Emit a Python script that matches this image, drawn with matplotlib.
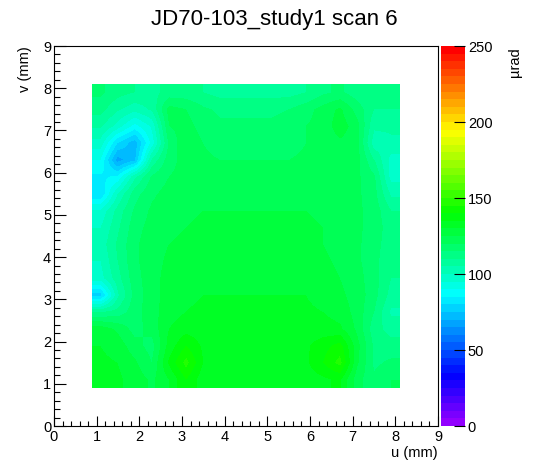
import colorsys
import matplotlib
matplotlib.use("Agg")
import matplotlib.pyplot as plt
import numpy as np
from matplotlib.colors import ListedColormap, BoundaryNorm
from matplotlib.ticker import MultipleLocator

plt.rcParams['font.family'] = ['Liberation Sans', 'DejaVu Sans']

title = "JD70-103_study1 scan 6"
u_range = [0.9, 8.1]
v_range = [0.9, 8.1]
z_ticks = [0, 50, 100, 150, 200, 250]

# deflection in µrad, rows from v=7.9 (top) down to v=1.1, columns u=1.1 .. 7.9 (0.4 mm step)
deflection = np.array([
    [116, 112, 110, 108, 112, 112, 110, 108, 108, 108, 108, 108, 110, 114, 116, 112, 110, 110],
    [112, 106, 102, 106, 122, 120, 116, 114, 114, 114, 114, 115, 118, 122, 126, 118, 110, 110],
    [106,  98,  88,  96, 120, 122, 118, 116, 116, 116, 116, 117, 120, 122, 128, 122, 106, 106],
    [ 98,  80,  72,  92, 116, 124, 120, 118, 118, 118, 118, 118, 120, 121, 124, 122, 102, 104],
    [ 90,  68,  74, 106, 118, 122, 121, 120, 120, 120, 120, 120, 121, 121, 122, 122, 110,  98],
    [ 84,  86, 104, 116, 120, 122, 122, 122, 121, 121, 121, 121, 122, 122, 122, 121, 116,  98],
    [ 80, 100, 113, 119, 122, 123, 123, 123, 123, 123, 123, 123, 123, 123, 122, 121, 117, 104],
    [ 96, 107, 116, 121, 123, 124, 125, 125, 125, 125, 125, 125, 125, 124, 123, 121, 118, 110],
    [100, 109, 118, 122, 124, 125, 126, 126, 126, 126, 126, 126, 126, 125, 123, 121, 118, 112],
    [102, 111, 119, 123, 125, 126, 127, 127, 127, 127, 127, 127, 126, 125, 123, 121, 117, 112],
    [100, 110, 119, 123, 126, 127, 128, 128, 128, 128, 128, 128, 127, 126, 124, 121, 117, 110],
    [ 98, 108, 118, 123, 127, 128, 129, 129, 129, 129, 129, 129, 128, 127, 125, 122, 117, 110],
    [ 78, 104, 117, 123, 127, 129, 130, 130, 130, 130, 130, 130, 130, 128, 126, 123, 117, 108],
    [110, 112, 118, 123, 128, 130, 131, 131, 131, 131, 131, 131, 131, 130, 128, 123, 115, 104],
    [128, 124, 118, 122, 130, 133, 132, 132, 132, 132, 132, 132, 132, 132, 131, 124, 112, 108],
    [130, 128, 122, 118, 132, 140, 134, 132, 132, 132, 132, 132, 134, 138, 142, 127, 114, 112],
    [131, 130, 126, 120, 136, 147, 135, 132, 131, 131, 132, 132, 134, 140, 147, 126, 114, 116],
    [132, 131, 128, 124, 130, 140, 132, 130, 130, 130, 130, 130, 132, 134, 136, 122, 116, 120],
])

# ROOT "pretty" palette: 50 colours, violet -> red
colors = []
for i in range(49):
    hue = 280 - (i + 1) * 280 / 50
    colors.append(colorsys.hls_to_rgb(hue / 360, 0.5, 1.0))
colors.append((1.0, 0.0, 0.0))
cmap = ListedColormap(colors)
norm = BoundaryNorm(np.linspace(0, 250, 51), cmap.N)

fig = plt.figure(figsize=(5.48, 4.74), dpi=100)
ax = fig.add_axes([54 / 548, 48 / 474, 384 / 548, 380 / 474])
cax = fig.add_axes([441 / 548, 48 / 474, 24 / 548, 380 / 474])

im = ax.imshow(deflection, cmap=cmap, norm=norm, origin='upper',
               extent=[u_range[0], u_range[1], v_range[0], v_range[1]],
               interpolation='bilinear', interpolation_stage='data', aspect='auto')

ax.set_xlim(0, 9)
ax.set_ylim(0, 9)
ax.xaxis.set_major_locator(MultipleLocator(1))
ax.xaxis.set_minor_locator(MultipleLocator(0.2))
ax.yaxis.set_major_locator(MultipleLocator(1))
ax.yaxis.set_minor_locator(MultipleLocator(0.2))
ax.tick_params(axis='both', which='both', direction='in', top=False, right=False,
               labelsize=10.5, width=0.8)
ax.tick_params(axis='x', which='major', length=7, pad=3)
ax.tick_params(axis='x', which='minor', length=3.6)
ax.tick_params(axis='y', which='major', length=8.5, pad=2)
ax.tick_params(axis='y', which='minor', length=4.5)
for s in ax.spines.values():
    s.set_linewidth(0.8)
ax.set_xlabel("u (mm)", loc='right', fontsize=10.5, labelpad=1)
ax.set_ylabel("v (mm)", loc='top', fontsize=10.5, labelpad=8)

cb = fig.colorbar(im, cax=cax, ticks=z_ticks)
cb.outline.set_visible(False)
cax.tick_params(axis='y', direction='in', length=8, width=0.8, labelsize=10.5, pad=2)
cax.yaxis.set_ticks_position('right')
cax.minorticks_off()

fig.text(0.5, 1 - 19 / 474, title, ha='center', va='center', fontsize=16)
fig.text(515 / 548, 1 - 47 / 474, "µrad", rotation=90, ha='center', va='top', fontsize=10.5)

fig.savefig("out.png", dpi=100)
